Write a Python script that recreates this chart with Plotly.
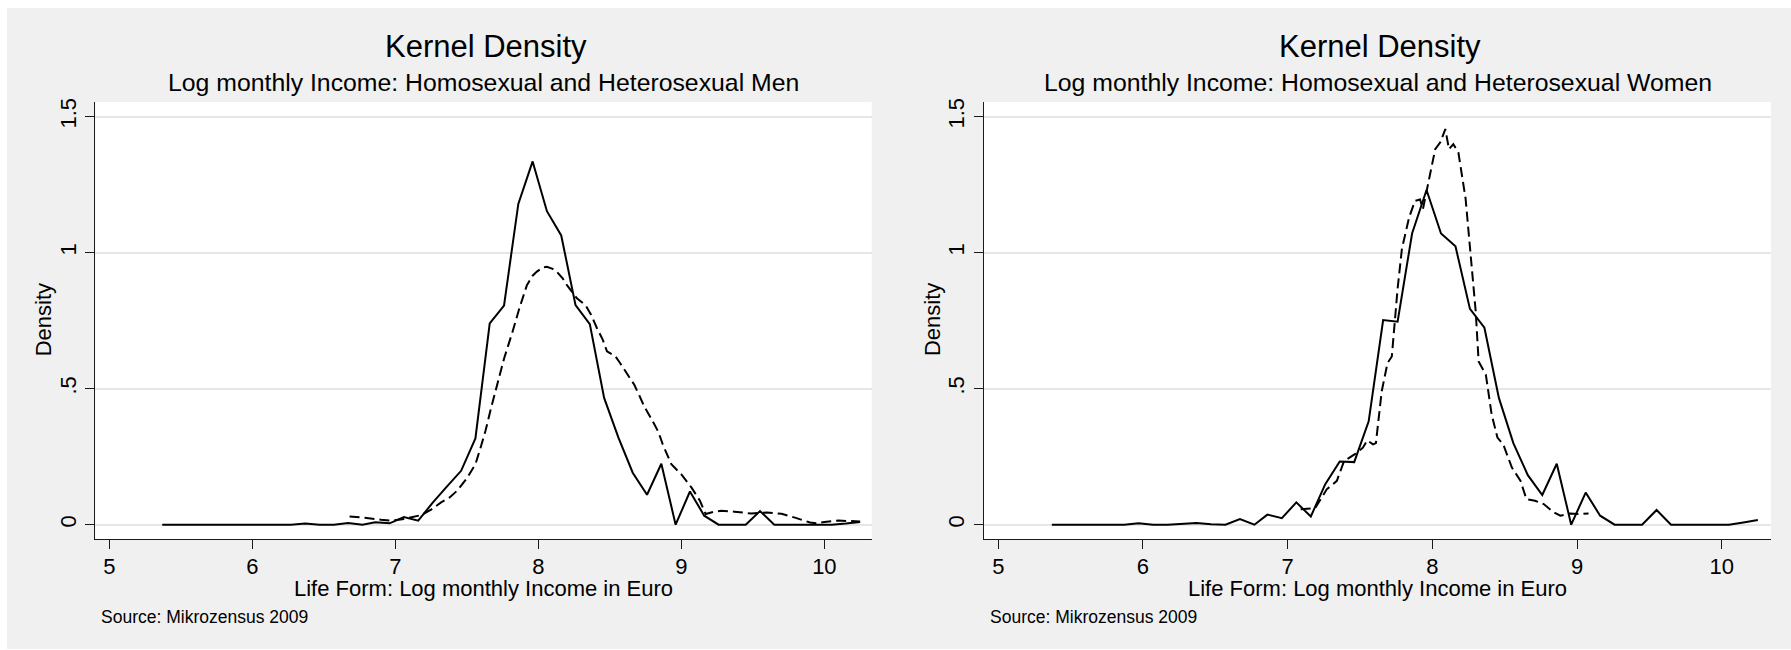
import plotly.graph_objects as go

W, H = 1791, 650
FONT = "Liberation Sans, Arial, Helvetica, sans-serif"

# ---------------- data ----------------
bin_x = [5.37, 5.47, 5.57, 5.67, 5.77, 5.87, 5.97, 6.07, 6.17, 6.27,
         6.37, 6.47, 6.57, 6.67, 6.77, 6.86, 6.96, 7.06, 7.16, 7.26,
         7.36, 7.46, 7.56, 7.66, 7.76, 7.86, 7.96, 8.06, 8.16, 8.26,
         8.36, 8.46, 8.56, 8.66, 8.76, 8.86, 8.96, 9.06, 9.16, 9.26,
         9.35, 9.45, 9.55, 9.65, 9.75, 9.85, 9.95, 10.05, 10.15, 10.25]

men_homo_y = [0, 0, 0, 0, 0, 0, 0, 0, 0, 0,
              0.004, 0, 0, 0.006, 0, 0.009, 0.005, 0.028, 0.015, 0.08,
              0.14, 0.198, 0.317, 0.74, 0.805, 1.179, 1.335, 1.152, 1.063, 0.807,
              0.737, 0.466, 0.32, 0.191, 0.11, 0.224, 0, 0.122, 0.033, 0,
              0, 0, 0.05, 0, 0, 0, 0, 0, 0.004, 0.01]

men_hetero_x = [6.68, 6.8, 6.9, 6.97, 7.05, 7.12, 7.18, 7.25, 7.32, 7.38,
                7.43, 7.5, 7.56, 7.6, 7.63, 7.67, 7.71, 7.76, 7.82, 7.87,
                7.92, 7.96, 7.99, 8.03, 8.06, 8.1, 8.13, 8.17, 8.2, 8.24,
                8.27, 8.33, 8.37, 8.41, 8.45, 8.48, 8.54, 8.57, 8.61, 8.67,
                8.71, 8.74, 8.8, 8.84, 8.87, 8.93, 9.0, 9.07, 9.13, 9.17,
                9.23, 9.28, 9.37, 9.49, 9.6, 9.7, 9.8, 9.9, 9.95, 10.0,
                10.1, 10.2, 10.25]
men_hetero_y = [0.03, 0.025, 0.018, 0.015, 0.02, 0.028, 0.035, 0.055, 0.082, 0.1,
                0.124, 0.17, 0.222, 0.29, 0.344, 0.43, 0.515, 0.61, 0.71, 0.8,
                0.88, 0.915, 0.93, 0.945, 0.948, 0.94, 0.929, 0.905, 0.88, 0.855,
                0.832, 0.807, 0.77, 0.722, 0.68, 0.637, 0.618, 0.595, 0.563, 0.515,
                0.47, 0.435, 0.38, 0.34, 0.295, 0.222, 0.185, 0.137, 0.088, 0.039,
                0.048, 0.051, 0.048, 0.041, 0.045, 0.04, 0.025, 0.008, 0.005, 0.01,
                0.015, 0.014, 0.012]

women_homo_y = [0, 0, 0, 0, 0, 0, 0.005, 0, 0, 0.002,
                0.006, 0.002, 0, 0.021, 0, 0.037, 0.024, 0.082, 0.03, 0.149,
                0.232, 0.23, 0.38, 0.752, 0.746, 1.07, 1.23, 1.07, 1.023, 0.793,
                0.724, 0.466, 0.3, 0.182, 0.109, 0.224, 0, 0.118, 0.033, 0,
                0, 0, 0.054, 0, 0, 0, 0, 0, 0.008, 0.017]

women_hetero_x = [7.09, 7.19, 7.27, 7.34, 7.39, 7.47, 7.52, 7.55, 7.59, 7.61,
                  7.65, 7.69, 7.72, 7.76, 7.79, 7.84, 7.88, 7.915, 7.935, 7.975,
                  8.02, 8.055, 8.09, 8.115, 8.145, 8.18, 8.23, 8.265, 8.3, 8.32,
                  8.37, 8.41, 8.45, 8.49, 8.55, 8.61, 8.65, 8.71, 8.77, 8.84,
                  8.885, 8.95, 9.02, 9.08]
women_hetero_y = [0.057, 0.061, 0.13, 0.161, 0.234, 0.261, 0.283, 0.31, 0.295, 0.3,
                  0.49, 0.594, 0.618, 0.868, 1.015, 1.13, 1.19, 1.195, 1.16, 1.27,
                  1.38, 1.405, 1.454, 1.38, 1.398, 1.368, 1.198, 0.99, 0.783, 0.6,
                  0.551, 0.405, 0.32, 0.295, 0.21, 0.161, 0.094, 0.088, 0.076, 0.045,
                  0.033, 0.041, 0.039, 0.041]

x_ticks = [5, 6, 7, 8, 9, 10]
y_ticks = [0, 0.5, 1, 1.5]
y_tick_text = ["0", ".5", "1", "1.5"]

title_text = "Kernel Density"
subtitles = ["Log monthly Income: Homosexual and Heterosexual Men",
             "Log monthly Income: Homosexual and Heterosexual Women"]
x_title = "Life Form: Log monthly Income in Euro"
y_title = "Density"
note_text = "Source: Mikrozensus 2009"

# ---------------- layout helpers ----------------
def px(x):
    return x / W


def py(y):
    return 1 - y / H


panels = [
    dict(left=95.3, right=871.7, xr=[4.902, 10.331]),
    dict(left=984.0, right=1771.0, xr=[4.901, 10.341]),
]
plot_top, plot_bottom = 98.7, 538.7
yr = [-0.054, 1.553]

fig = go.Figure()

series = [
    (bin_x, men_homo_y, men_hetero_x, men_hetero_y),
    (bin_x, women_homo_y, women_hetero_x, women_hetero_y),
]

for i, (sx, sy, dx, dy) in enumerate(series):
    xa = "x" if i == 0 else "x2"
    ya = "y" if i == 0 else "y2"
    fig.add_trace(go.Scatter(x=sx, y=sy, mode="lines", xaxis=xa, yaxis=ya,
                             line=dict(color="#000000", width=2), showlegend=False,
                             hoverinfo="skip"))
    fig.add_trace(go.Scatter(x=dx, y=dy, mode="lines", xaxis=xa, yaxis=ya,
                             line=dict(color="#000000", width=2, dash="10px,5px"),
                             showlegend=False, hoverinfo="skip"))

axis_common = dict(showline=True, linecolor="#1a1a1a", linewidth=1,
                   ticks="outside", ticklen=9, tickwidth=1, tickcolor="#1a1a1a",
                   zeroline=False, fixedrange=True,
                   tickfont=dict(family=FONT, size=22, color="#000000"))

layout = dict(
    width=W, height=H,
    margin=dict(l=0, r=0, t=0, b=0),
    paper_bgcolor="#ffffff",
    plot_bgcolor="rgba(0,0,0,0)",
    showlegend=False,
    font=dict(family=FONT, color="#000000"),
)

annotations = []
shapes = [dict(type="rect", xref="paper", yref="paper", layer="below",
               x0=px(7), x1=1, y0=py(649), y1=py(4),
               fillcolor="#f0f0f0", line=dict(width=0))]

for i, p in enumerate(panels):
    sfx = "" if i == 0 else "2"
    shapes.append(dict(type="rect", xref="paper", yref="paper", layer="below",
                       x0=px(p["left"]), x1=px(p["right"]),
                       y0=py(plot_bottom), y1=py(plot_top),
                       fillcolor="#ffffff", line=dict(width=0)))
    layout["xaxis" + sfx] = dict(
        domain=[px(p["left"]), px(p["right"])], range=p["xr"],
        anchor="y" + sfx, tickvals=x_ticks, showgrid=False,
        ticklabelstandoff=-2, **axis_common)
    layout["yaxis" + sfx] = dict(
        domain=[py(plot_bottom), py(plot_top)], range=yr,
        anchor="x" + sfx, tickvals=y_ticks, ticktext=y_tick_text,
        tickangle=-90, showgrid=True, gridcolor="#e6e6e6", gridwidth=2,
        ticklabelstandoff=1, **axis_common)
    cx = (p["left"] + p["right"]) / 2
    annotations += [
        dict(text=title_text, x=px(cx + 2), y=py(42.5), xref="paper", yref="paper",
             xanchor="center", yanchor="middle", showarrow=False,
             font=dict(family=FONT, size=31, color="#000000")),
        dict(text=subtitles[i], x=px(cx), y=py(78.5), xref="paper", yref="paper",
             xanchor="center", yanchor="middle", showarrow=False,
             font=dict(family=FONT, size=24.8, color="#000000")),
        dict(text=x_title, x=px(cx), y=py(588), xref="paper", yref="paper",
             xanchor="center", yanchor="middle", showarrow=False,
             font=dict(family=FONT, size=22, color="#000000")),
        dict(text=y_title, x=px(p["left"] - 52), y=py(318), xref="paper", yref="paper",
             xanchor="center", yanchor="middle", showarrow=False, textangle=-90,
             font=dict(family=FONT, size=22, color="#000000")),
        dict(text=note_text, x=px(p["left"] + 4), y=py(616.7), xref="paper", yref="paper",
             xanchor="left", yanchor="middle", showarrow=False,
             font=dict(family=FONT, size=17.5, color="#000000")),
    ]

layout["annotations"] = annotations
layout["shapes"] = shapes
fig.update_layout(**layout)

fig.write_html(
    "out.html",
    config={"displayModeBar": False},
    post_script="document.body.style.margin='0';document.body.style.overflow='hidden';",
)
